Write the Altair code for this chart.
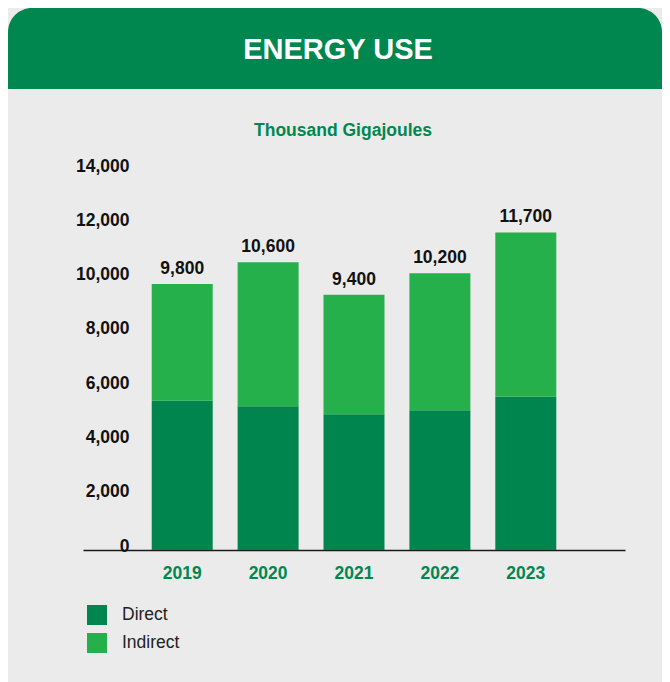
import altair as alt
import pandas as pd

# ---- data ----
years = ["2019", "2020", "2021", "2022", "2023"]
direct = [5500, 5300, 5000, 5150, 5650]
indirect = [4300, 5300, 4400, 5050, 6050]
totals = [9800, 10600, 9400, 10200, 11700]
series = ["Direct", "Indirect"]
y_ticks = [0, 2000, 4000, 6000, 8000, 10000, 12000, 14000]

GREEN = "#00874F"
DIRECT_C = "#00854F"
INDIRECT_C = "#25B04B"
BG = "#EBEBEB"
FONT = "Liberation Sans"
CARD_W = 654

rows = []
for yr, d, i in zip(years, direct, indirect):
    rows.append({"year": yr, "type": "Direct", "value": d, "ord": 0})
    rows.append({"year": yr, "type": "Indirect", "value": i, "ord": 1})
df = pd.DataFrame(rows)
tot_df = pd.DataFrame({"year": years, "total": totals})

# ---- header ----
hdr_df = pd.DataFrame({"t": ["ENERGY USE"]})
hdr_square = alt.Chart(hdr_df).mark_rect(color=GREEN).encode(
    x=alt.value(0), x2=alt.value(CARD_W), y=alt.value(40), y2=alt.value(81)
)
hdr_text = alt.Chart(hdr_df).mark_text(
    fontSize=29, fontWeight="bold", color="white", font=FONT, baseline="middle", align="center"
).encode(text="t:N", x=alt.value(330), y=alt.value(42))
header = alt.layer(hdr_square, hdr_text).properties(
    width=CARD_W, height=81,
    view=alt.ViewBackground(fill=GREEN, cornerRadius=24, strokeWidth=0),
)

# ---- spacer ----
spacer = alt.Chart(pd.DataFrame({"s": [0]})).mark_rect(opacity=0).encode(
    x=alt.value(0), x2=alt.value(67), y=alt.value(0), y2=alt.value(1)
).properties(width=67, height=10, view=alt.ViewBackground(strokeWidth=0))

# ---- main chart ----
x_enc = alt.X(
    "year:N",
    sort=years,
    scale=alt.Scale(paddingInner=0.29, paddingOuter=0.8),
    axis=alt.Axis(
        title=None, labelAngle=0, ticks=False, domain=True, domainColor="#1a1a1a",
        domainWidth=1.3, labelPadding=14, labelFont=FONT, labelFontSize=17.5,
        labelFontWeight="bold", labelColor=GREEN, grid=False,
    ),
)
y_scale = alt.Scale(domain=[0, 14000], nice=False)
y_axis = alt.Axis(
    title=None, values=y_ticks, format=",.0f", grid=False, domain=False, ticks=False,
    labelPadding=4, offset=-50, labelOffset=-4, labelFont=FONT, labelFontSize=17.5,
    labelFontWeight="bold", labelColor="#111111",
)

bars = alt.Chart(df).mark_bar().encode(
    x=x_enc,
    y=alt.Y("value:Q", stack="zero", scale=y_scale, axis=y_axis),
    color=alt.Color(
        "type:N",
        scale=alt.Scale(domain=series, range=[DIRECT_C, INDIRECT_C]),
        legend=alt.Legend(
            title=None, orient="none", legendX=79, legendY=597, symbolType="square",
            symbolSize=400, symbolStrokeWidth=0, labelFont=FONT, labelFontSize=17.5,
            labelColor="#222222", rowPadding=8, labelOffset=15, padding=0,
        ),
    ),
    order=alt.Order("ord:Q"),
)

labels = alt.Chart(tot_df).mark_text(
    baseline="alphabetic", dy=-10, fontSize=17.5, fontWeight="bold", color="#111111", font=FONT
).encode(
    x=x_enc,
    y=alt.Y("total:Q", scale=y_scale, axis=y_axis),
    text=alt.Text("total:Q", format=","),
)

main = alt.layer(bars, labels).properties(
    width=542, height=380,
    title=alt.TitleParams(
        "Thousand Gigajoules", font=FONT, fontSize=17.5, fontWeight="bold", color=GREEN,
        anchor="middle", dx=-11, offset=18,
    ),
    view=alt.ViewBackground(strokeWidth=0),
)

chart = alt.vconcat(
    header,
    alt.hconcat(spacer, main, spacing=0),
    spacing=32,
).properties(
    background=BG,
    padding={"left": 0, "top": 0, "right": 0, "bottom": 110},
).configure_view(strokeWidth=0)

chart.save("out.html", embed_options={"renderer": "svg", "actions": False})
